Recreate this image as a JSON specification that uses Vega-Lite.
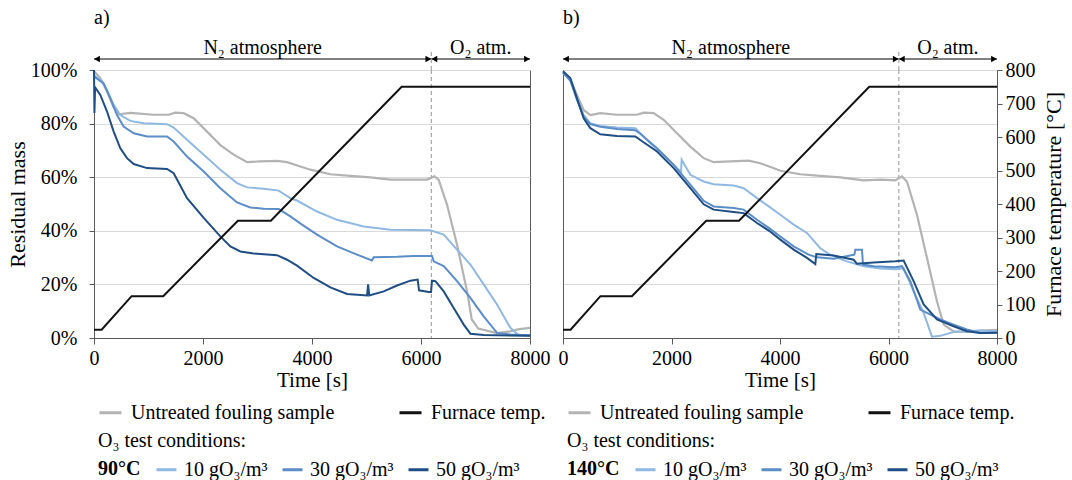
{
  "$schema": "https://vega.github.io/schema/vega-lite/v6.json",
  "background": "white",
  "padding": {"top": 8, "left": 5, "right": 5, "bottom": 5},
  "config": {
    "font": "Liberation Serif",
    "view": {"stroke": "#595959", "strokeWidth": 1},
    "axis": {"labelFont": "Liberation Serif", "titleFont": "Liberation Serif", "labelFontSize": 20, "titleFontSize": 21, "labelColor": "#000", "titleColor": "#000", "titleFontWeight": "normal", "domainColor": "#595959", "tickColor": "#595959", "gridColor": "#d9d9d9", "gridWidth": 1},
    "legend": {"labelFont": "Liberation Serif", "titleFont": "Liberation Serif", "labelFontSize": 20, "titleFontSize": 20, "labelColor": "#000", "titleColor": "#000", "labelLimit": 400, "titleLimit": 400},
    "title": {"font": "Liberation Serif", "fontSize": 20, "fontWeight": "normal", "color": "#000"},
    "text": {"font": "Liberation Serif"}
  },
  "datasets": {
    "temp": [{"t":0,"T":25},{"t":140,"T":25},{"t":690,"T":125},{"t":1270,"T":125},{"t":2640,"T":350},{"t":3245,"T":350},{"t":5645,"T":750},{"t":8000,"T":750}],
    "phases": [{"start":0,"end":6190,"label":"N₂ atmosphere"},{"start":6190,"end":8000,"label":"O₂ atm."}],
    "switch": [{"t":6190}],
    "untreatedA": [{"t":0,"m":99.5},{"t":116,"m":97},{"t":239,"m":92},{"t":361,"m":86},{"t":453,"m":83.5},{"t":667,"m":84},{"t":1095,"m":83.3},{"t":1370,"m":83.3},{"t":1493,"m":84.1},{"t":1646,"m":83.9},{"t":1829,"m":82},{"t":2074,"m":77},{"t":2318,"m":72},{"t":2563,"m":68.4},{"t":2808,"m":65.6},{"t":3052,"m":65.9},{"t":3358,"m":66.1},{"t":3542,"m":65.6},{"t":3786,"m":64},{"t":3970,"m":62.8},{"t":4337,"m":61.1},{"t":4704,"m":60.5},{"t":5071,"m":59.9},{"t":5438,"m":59.1},{"t":5744,"m":59.1},{"t":6111,"m":59.1},{"t":6245,"m":60.3},{"t":6325,"m":59},{"t":6478,"m":49.7},{"t":6661,"m":34.8},{"t":6845,"m":17.4},{"t":6930,"m":7},{"t":7050,"m":3.5},{"t":7395,"m":1.8},{"t":7640,"m":2.5},{"t":7800,"m":3.3},{"t":8000,"m":3.8}],
    "ozoneA": [
      {"s":"10","t":0,"m":98},{"s":"10","t":147,"m":95.7},{"s":"10","t":239,"m":92.5},{"s":"10","t":361,"m":87},{"s":"10","t":483,"m":83.2},{"s":"10","t":667,"m":81},{"s":"10","t":911,"m":80.1},{"s":"10","t":1340,"m":79.8},{"s":"10","t":1462,"m":78.5},{"s":"10","t":1707,"m":74},{"s":"10","t":2013,"m":68.4},{"s":"10","t":2318,"m":62.8},{"s":"10","t":2624,"m":57.8},{"s":"10","t":2808,"m":56.2},{"s":"10","t":3114,"m":55.7},{"s":"10","t":3389,"m":55},{"s":"10","t":3603,"m":52.2},{"s":"10","t":3725,"m":51.3},{"s":"10","t":4092,"m":47.2},{"s":"10","t":4459,"m":44.1},{"s":"10","t":4948,"m":41.6},{"s":"10","t":5438,"m":40.4},{"s":"10","t":5866,"m":40.3},{"s":"10","t":6172,"m":40.2},{"s":"10","t":6417,"m":38.6},{"s":"10","t":6661,"m":33},{"s":"10","t":6906,"m":27.4},{"s":"10","t":7150,"m":20},{"s":"10","t":7395,"m":12.5},{"s":"10","t":7640,"m":3.8},{"s":"10","t":7790,"m":1},{"s":"10","t":8000,"m":0.8},
      {"s":"30","t":0,"m":97.5},{"s":"30","t":55,"m":96.8},{"s":"30","t":177,"m":95},{"s":"30","t":300,"m":89.4},{"s":"30","t":422,"m":83.2},{"s":"30","t":544,"m":78.9},{"s":"30","t":728,"m":76.4},{"s":"30","t":973,"m":75.2},{"s":"30","t":1340,"m":75.2},{"s":"30","t":1462,"m":73.3},{"s":"30","t":1707,"m":67.7},{"s":"30","t":2013,"m":62.1},{"s":"30","t":2318,"m":55.9},{"s":"30","t":2624,"m":50.6},{"s":"30","t":2869,"m":48.7},{"s":"30","t":3114,"m":48.2},{"s":"30","t":3389,"m":48.1},{"s":"30","t":3603,"m":45.4},{"s":"30","t":3817,"m":42.3},{"s":"30","t":4092,"m":38.6},{"s":"30","t":4459,"m":34.2},{"s":"30","t":4826,"m":31.1},{"s":"30","t":5101,"m":28.9},{"s":"30","t":5132,"m":30.1},{"s":"30","t":5560,"m":30.3},{"s":"30","t":5866,"m":30.6},{"s":"30","t":6202,"m":30.6},{"s":"30","t":6233,"m":28.6},{"s":"30","t":6417,"m":26.8},{"s":"30","t":6661,"m":21.2},{"s":"30","t":6906,"m":15},{"s":"30","t":7150,"m":8.1},{"s":"30","t":7395,"m":1.9},{"s":"30","t":7640,"m":1.3},{"s":"30","t":8000,"m":1},
      {"s":"50","t":0,"m":100},{"s":"50","t":8,"m":84},{"s":"50","t":20,"m":93.5},{"s":"50","t":116,"m":90.7},{"s":"50","t":239,"m":84.5},{"s":"50","t":361,"m":77},{"s":"50","t":483,"m":70.8},{"s":"50","t":606,"m":67.1},{"s":"50","t":728,"m":64.9},{"s":"50","t":973,"m":63.4},{"s":"50","t":1340,"m":63.1},{"s":"50","t":1462,"m":61.5},{"s":"50","t":1707,"m":52.2},{"s":"50","t":2013,"m":44.8},{"s":"50","t":2318,"m":37.9},{"s":"50","t":2502,"m":34.2},{"s":"50","t":2685,"m":32.3},{"s":"50","t":2930,"m":31.5},{"s":"50","t":3358,"m":30.9},{"s":"50","t":3542,"m":29.2},{"s":"50","t":3725,"m":27},{"s":"50","t":4031,"m":22.4},{"s":"50","t":4337,"m":18.9},{"s":"50","t":4643,"m":16.4},{"s":"50","t":5010,"m":15.9},{"s":"50","t":5030,"m":20},{"s":"50","t":5050,"m":15.9},{"s":"50","t":5316,"m":17.4},{"s":"50","t":5560,"m":19.6},{"s":"50","t":5805,"m":21.4},{"s":"50","t":5939,"m":21.8},{"s":"50","t":5964,"m":17.8},{"s":"50","t":6141,"m":17.2},{"s":"50","t":6184,"m":17.2},{"s":"50","t":6202,"m":21.4},{"s":"50","t":6264,"m":21.2},{"s":"50","t":6417,"m":17.4},{"s":"50","t":6600,"m":11.2},{"s":"50","t":6784,"m":5},{"s":"50","t":6906,"m":1.6},{"s":"50","t":7150,"m":1.1},{"s":"50","t":8000,"m":0.8}
    ],
    "untreatedB": [{"t":0,"m":99.4},{"t":135,"m":96.3},{"t":258,"m":90.7},{"t":381,"m":85.1},{"t":504,"m":83.2},{"t":688,"m":83.9},{"t":995,"m":83.3},{"t":1364,"m":83.3},{"t":1487,"m":84.1},{"t":1671,"m":83.9},{"t":1855,"m":81.4},{"t":2101,"m":76.4},{"t":2347,"m":71.4},{"t":2593,"m":67.1},{"t":2777,"m":65.6},{"t":3084,"m":65.9},{"t":3422,"m":66.2},{"t":3637,"m":65.2},{"t":3852,"m":63.6},{"t":4006,"m":62.4},{"t":4374,"m":61.1},{"t":4743,"m":60.5},{"t":5112,"m":59.9},{"t":5542,"m":58.8},{"t":5849,"m":59.1},{"t":6125,"m":58.8},{"t":6248,"m":60.3},{"t":6340,"m":58.4},{"t":6525,"m":46},{"t":6709,"m":29.9},{"t":6893,"m":13.7},{"t":7016,"m":5},{"t":7200,"m":2.5},{"t":7446,"m":2.3},{"t":7692,"m":2.8},{"t":8000,"m":3}],
    "ozoneB": [
      {"s":"10","t":0,"m":99},{"s":"10","t":135,"m":96.3},{"s":"10","t":258,"m":89.4},{"s":"10","t":381,"m":83.2},{"s":"10","t":504,"m":80.1},{"s":"10","t":688,"m":79.1},{"s":"10","t":995,"m":78.5},{"s":"10","t":1333,"m":78.3},{"s":"10","t":1395,"m":77},{"s":"10","t":1610,"m":72.7},{"s":"10","t":1855,"m":68.4},{"s":"10","t":2101,"m":63.4},{"s":"10","t":2175,"m":61.9},{"s":"10","t":2187,"m":66.5},{"s":"10","t":2347,"m":60.9},{"s":"10","t":2593,"m":58.4},{"s":"10","t":2777,"m":57.4},{"s":"10","t":3146,"m":56.9},{"s":"10","t":3330,"m":55.9},{"s":"10","t":3576,"m":52.2},{"s":"10","t":3800,"m":49},{"s":"10","t":4006,"m":46},{"s":"10","t":4252,"m":42.3},{"s":"10","t":4497,"m":39.2},{"s":"10","t":4620,"m":36.3},{"s":"10","t":4743,"m":33.5},{"s":"10","t":4890,"m":31.5},{"s":"10","t":5050,"m":30},{"s":"10","t":5235,"m":28.6},{"s":"10","t":5542,"m":26.8},{"s":"10","t":5849,"m":25.9},{"s":"10","t":6125,"m":25.7},{"s":"10","t":6279,"m":26},{"s":"10","t":6463,"m":17.4},{"s":"10","t":6648,"m":9.4},{"s":"10","t":6801,"m":0.5},{"s":"10","t":6955,"m":0.8},{"s":"10","t":7200,"m":2.2},{"s":"10","t":7446,"m":2.5},{"s":"10","t":7692,"m":2.8},{"s":"10","t":8000,"m":2.5},
      {"s":"30","t":0,"m":99},{"s":"30","t":135,"m":96},{"s":"30","t":258,"m":88.8},{"s":"30","t":381,"m":82.6},{"s":"30","t":504,"m":79.8},{"s":"30","t":688,"m":78.8},{"s":"30","t":995,"m":78},{"s":"30","t":1333,"m":77.5},{"s":"30","t":1425,"m":76.2},{"s":"30","t":1733,"m":70.8},{"s":"30","t":2040,"m":64.6},{"s":"30","t":2347,"m":57.2},{"s":"30","t":2593,"m":51.2},{"s":"30","t":2777,"m":49.1},{"s":"30","t":3146,"m":48.5},{"s":"30","t":3330,"m":47.9},{"s":"30","t":3576,"m":44.1},{"s":"30","t":3800,"m":41},{"s":"30","t":4006,"m":37.9},{"s":"30","t":4252,"m":34.2},{"s":"30","t":4528,"m":31.1},{"s":"30","t":4682,"m":30.1},{"s":"30","t":4989,"m":29.6},{"s":"30","t":5370,"m":31.1},{"s":"30","t":5388,"m":32.9},{"s":"30","t":5511,"m":32.9},{"s":"30","t":5530,"m":27.4},{"s":"30","t":5726,"m":26.8},{"s":"30","t":6125,"m":26.4},{"s":"30","t":6248,"m":26.8},{"s":"30","t":6402,"m":21.2},{"s":"30","t":6586,"m":10.6},{"s":"30","t":6709,"m":9.4},{"s":"30","t":6955,"m":6.9},{"s":"30","t":7200,"m":5},{"s":"30","t":7446,"m":3.2},{"s":"30","t":7692,"m":1.9},{"s":"30","t":8000,"m":2},
      {"s":"50","t":0,"m":99.5},{"s":"50","t":135,"m":97},{"s":"50","t":258,"m":89.4},{"s":"50","t":381,"m":82},{"s":"50","t":504,"m":78.3},{"s":"50","t":688,"m":76},{"s":"50","t":995,"m":75.4},{"s":"50","t":1333,"m":75.2},{"s":"50","t":1425,"m":73.9},{"s":"50","t":1733,"m":69.6},{"s":"50","t":2040,"m":63.4},{"s":"50","t":2347,"m":55.9},{"s":"50","t":2593,"m":49.9},{"s":"50","t":2777,"m":47.9},{"s":"50","t":3146,"m":47},{"s":"50","t":3330,"m":46.6},{"s":"50","t":3576,"m":42.9},{"s":"50","t":3800,"m":40},{"s":"50","t":4006,"m":36.7},{"s":"50","t":4252,"m":33},{"s":"50","t":4497,"m":29.9},{"s":"50","t":4651,"m":27.6},{"s":"50","t":4669,"m":31.3},{"s":"50","t":4989,"m":30.8},{"s":"50","t":5358,"m":29.2},{"s":"50","t":5419,"m":27.7},{"s":"50","t":5726,"m":28.2},{"s":"50","t":6125,"m":28.6},{"s":"50","t":6279,"m":28.9},{"s":"50","t":6463,"m":21.2},{"s":"50","t":6648,"m":12.5},{"s":"50","t":6893,"m":6.9},{"s":"50","t":7200,"m":4.4},{"s":"50","t":7446,"m":2.5},{"s":"50","t":7692,"m":1.9},{"s":"50","t":8000,"m":2}
    ]
  },
  "columns": 2,
  "spacing": {"row": 0, "column": 33},
  "bounds": "flush",
  "resolve": {"scale": {"color": "independent", "stroke": "independent"}, "legend": {"color": "independent", "stroke": "independent"}},
  "concat": [
    {
      "width": 436, "height": 33,
      "title": {"text": "a)", "anchor": "start", "frame": "group", "offset": 9},
      "view": {"stroke": null},
      "layer": [
        {"data": {"name": "phases"}, "mark": {"type": "rule", "color": "#000", "strokeWidth": 1}, "encoding": {"x": {"field": "start", "type": "quantitative", "scale": {"domain": [0, 8000], "nice": false}, "axis": null}, "x2": {"field": "end"}, "y": {"datum": 1, "type": "quantitative", "scale": {"domain": [0, 3]}, "axis": null}}},
        {"data": {"name": "phases"}, "mark": {"type": "point", "shape": "triangle-left", "filled": true, "size": 45, "color": "#000", "opacity": 1, "xOffset": 3}, "encoding": {"x": {"field": "start", "type": "quantitative"}, "y": {"datum": 1, "type": "quantitative"}}},
        {"data": {"name": "phases"}, "mark": {"type": "point", "shape": "triangle-right", "filled": true, "size": 45, "color": "#000", "opacity": 1, "xOffset": -3}, "encoding": {"x": {"field": "end", "type": "quantitative"}, "y": {"datum": 1, "type": "quantitative"}}},
        {"data": {"name": "phases"}, "transform": [{"calculate": "(datum.start + datum.end) / 2", "as": "mid"}], "mark": {"type": "text", "fontSize": 20, "baseline": "alphabetic", "color": "#000"}, "encoding": {"x": {"field": "mid", "type": "quantitative"}, "y": {"datum": 1.45, "type": "quantitative"}, "text": {"field": "label"}}},
        {"data": {"name": "switch"}, "mark": {"type": "rule", "color": "#a6a6a6", "strokeDash": [4, 3], "strokeWidth": 1.2}, "encoding": {"x": {"field": "t", "type": "quantitative"}, "y": {"datum": 0, "type": "quantitative"}, "y2": {"datum": 1.8}}}
      ]
    },
    {
      "width": 434, "height": 33,
      "title": {"text": "b)", "anchor": "start", "frame": "group", "offset": 9},
      "view": {"stroke": null},
      "layer": [
        {"data": {"name": "phases"}, "mark": {"type": "rule", "color": "#000", "strokeWidth": 1}, "encoding": {"x": {"field": "start", "type": "quantitative", "scale": {"domain": [0, 8000], "nice": false}, "axis": null}, "x2": {"field": "end"}, "y": {"datum": 1, "type": "quantitative", "scale": {"domain": [0, 3]}, "axis": null}}},
        {"data": {"name": "phases"}, "mark": {"type": "point", "shape": "triangle-left", "filled": true, "size": 45, "color": "#000", "opacity": 1, "xOffset": 3}, "encoding": {"x": {"field": "start", "type": "quantitative"}, "y": {"datum": 1, "type": "quantitative"}}},
        {"data": {"name": "phases"}, "mark": {"type": "point", "shape": "triangle-right", "filled": true, "size": 45, "color": "#000", "opacity": 1, "xOffset": -3}, "encoding": {"x": {"field": "end", "type": "quantitative"}, "y": {"datum": 1, "type": "quantitative"}}},
        {"data": {"name": "phases"}, "transform": [{"calculate": "(datum.start + datum.end) / 2", "as": "mid"}], "mark": {"type": "text", "fontSize": 20, "baseline": "alphabetic", "color": "#000"}, "encoding": {"x": {"field": "mid", "type": "quantitative"}, "y": {"datum": 1.45, "type": "quantitative"}, "text": {"field": "label"}}},
        {"data": {"name": "switch"}, "mark": {"type": "rule", "color": "#a6a6a6", "strokeDash": [4, 3], "strokeWidth": 1.2}, "encoding": {"x": {"field": "t", "type": "quantitative"}, "y": {"datum": 0, "type": "quantitative"}, "y2": {"datum": 1.8}}}
      ]
    },
    {
      "width": 436, "height": 268,
      "resolve": {"scale": {"y": "independent"}},
      "layer": [
        {"layer": [
          {"data": {"name": "switch"}, "mark": {"type": "rule", "color": "#a6a6a6", "strokeDash": [4, 3], "strokeWidth": 1.2}, "encoding": {"x": {"field": "t", "type": "quantitative", "title": "Time [s]", "scale": {"domain": [0, 8000], "nice": false}, "axis": {"values": [0, 2000, 4000, 6000, 8000], "format": "d", "grid": false, "labelFlush": false, "tickSize": 6, "labelPadding": 4, "titlePadding": 1}}}},
          {"data": {"name": "untreatedA"}, "mark": {"type": "line", "strokeWidth": 2.2}, "encoding": {
            "x": {"field": "t", "type": "quantitative", "title": "Time [s]", "scale": {"domain": [0, 8000], "nice": false}, "axis": {"values": [0, 2000, 4000, 6000, 8000], "format": "d", "grid": false, "labelFlush": false, "tickSize": 6, "labelPadding": 4, "titlePadding": 1}},
            "y": {"field": "m", "type": "quantitative", "title": "Residual mass", "scale": {"domain": [0, 100], "nice": false}, "axis": {"values": [0, 20, 40, 60, 80, 100], "labelExpr": "datum.value + '%'", "grid": true, "tickSize": 5, "labelPadding": 12, "titlePadding": 1, "titleFontSize": 22}},
            "color": {"datum": "Untreated fouling sample", "type": "nominal", "scale": {"domain": ["Untreated fouling sample", "Furnace temp."], "range": ["#b3b3b3", "#111111"]}, "legend": {"orient": "none", "legendX": 4, "legendY": 330, "direction": "horizontal", "title": "O₃ test conditions:", "titleOrient": "bottom", "titleAnchor": "start", "titleFontWeight": "normal", "titlePadding": 8, "symbolType": "stroke", "symbolSize": 484, "symbolStrokeWidth": 3, "labelOffset": 8, "columnPadding": 58}}
          }},
          {"data": {"name": "ozoneA"}, "mark": {"type": "line", "strokeWidth": 2}, "encoding": {
            "x": {"field": "t", "type": "quantitative", "title": "Time [s]", "scale": {"domain": [0, 8000], "nice": false}, "axis": {"values": [0, 2000, 4000, 6000, 8000], "format": "d", "grid": false, "labelFlush": false, "tickSize": 6, "labelPadding": 4, "titlePadding": 1}},
            "y": {"field": "m", "type": "quantitative", "title": "Residual mass", "scale": {"domain": [0, 100], "nice": false}, "axis": {"values": [0, 20, 40, 60, 80, 100], "labelExpr": "datum.value + '%'", "grid": true, "tickSize": 5, "labelPadding": 12, "titlePadding": 1, "titleFontSize": 22}},
            "stroke": {"field": "s", "type": "nominal", "scale": {"domain": ["10", "30", "50"], "range": ["#8fb9e3", "#5b8dc8", "#1f4e84"]}, "legend": {"orient": "none", "legendX": 4, "legendY": 388, "direction": "horizontal", "title": "90°C", "titleOrient": "left", "titleFontWeight": "bold", "titlePadding": 14, "symbolType": "stroke", "symbolSize": 400, "symbolStrokeWidth": 3, "labelOffset": 6, "columnPadding": 8, "labelExpr": "datum.label + ' gO₃/m³'"}}
          }}
        ]},
        {"data": {"name": "temp"}, "mark": {"type": "line", "strokeWidth": 2}, "encoding": {
          "x": {"field": "t", "type": "quantitative", "title": "Time [s]", "scale": {"domain": [0, 8000], "nice": false}, "axis": {"values": [0, 2000, 4000, 6000, 8000], "format": "d", "grid": false, "labelFlush": false, "tickSize": 6, "labelPadding": 4, "titlePadding": 1}},
          "y": {"field": "T", "type": "quantitative", "scale": {"domain": [0, 800], "nice": false}, "axis": null},
          "color": {"datum": "Furnace temp.", "type": "nominal", "scale": {"domain": ["Untreated fouling sample", "Furnace temp."], "range": ["#b3b3b3", "#111111"]}, "legend": {"orient": "none", "legendX": 4, "legendY": 330, "direction": "horizontal", "title": "O₃ test conditions:", "titleOrient": "bottom", "titleAnchor": "start", "titleFontWeight": "normal", "titlePadding": 8, "symbolType": "stroke", "symbolSize": 484, "symbolStrokeWidth": 3, "labelOffset": 8, "columnPadding": 58}}
        }}
      ]
    },
    {
      "width": 434, "height": 268,
      "resolve": {"scale": {"y": "independent"}},
      "layer": [
        {"layer": [
          {"data": {"name": "switch"}, "mark": {"type": "rule", "color": "#a6a6a6", "strokeDash": [4, 3], "strokeWidth": 1.2}, "encoding": {"x": {"field": "t", "type": "quantitative", "title": "Time [s]", "scale": {"domain": [0, 8000], "nice": false}, "axis": {"values": [0, 2000, 4000, 6000, 8000], "format": "d", "grid": false, "labelFlush": false, "tickSize": 6, "labelPadding": 4, "titlePadding": 1}}}},
          {"data": {"name": "untreatedB"}, "mark": {"type": "line", "strokeWidth": 2.2}, "encoding": {
            "x": {"field": "t", "type": "quantitative", "title": "Time [s]", "scale": {"domain": [0, 8000], "nice": false}, "axis": {"values": [0, 2000, 4000, 6000, 8000], "format": "d", "grid": false, "labelFlush": false, "tickSize": 6, "labelPadding": 4, "titlePadding": 1}},
            "y": {"field": "m", "type": "quantitative", "title": null, "scale": {"domain": [0, 100], "nice": false}, "axis": {"values": [0, 20, 40, 60, 80, 100], "labels": false, "ticks": false, "grid": true, "title": null}},
            "color": {"datum": "Untreated fouling sample", "type": "nominal", "scale": {"domain": ["Untreated fouling sample", "Furnace temp."], "range": ["#b3b3b3", "#111111"]}, "legend": {"orient": "none", "legendX": 4, "legendY": 330, "direction": "horizontal", "title": "O₃ test conditions:", "titleOrient": "bottom", "titleAnchor": "start", "titleFontWeight": "normal", "titlePadding": 8, "symbolType": "stroke", "symbolSize": 484, "symbolStrokeWidth": 3, "labelOffset": 8, "columnPadding": 58}}
          }},
          {"data": {"name": "ozoneB"}, "mark": {"type": "line", "strokeWidth": 2}, "encoding": {
            "x": {"field": "t", "type": "quantitative", "title": "Time [s]", "scale": {"domain": [0, 8000], "nice": false}, "axis": {"values": [0, 2000, 4000, 6000, 8000], "format": "d", "grid": false, "labelFlush": false, "tickSize": 6, "labelPadding": 4, "titlePadding": 1}},
            "y": {"field": "m", "type": "quantitative", "title": null, "scale": {"domain": [0, 100], "nice": false}, "axis": {"values": [0, 20, 40, 60, 80, 100], "labels": false, "ticks": false, "grid": true, "title": null}},
            "stroke": {"field": "s", "type": "nominal", "scale": {"domain": ["10", "30", "50"], "range": ["#8fb9e3", "#5b8dc8", "#1f4e84"]}, "legend": {"orient": "none", "legendX": 4, "legendY": 388, "direction": "horizontal", "title": "140°C", "titleOrient": "left", "titleFontWeight": "bold", "titlePadding": 14, "symbolType": "stroke", "symbolSize": 400, "symbolStrokeWidth": 3, "labelOffset": 6, "columnPadding": 8, "labelExpr": "datum.label + ' gO₃/m³'"}}
          }}
        ]},
        {"data": {"name": "temp"}, "mark": {"type": "line", "strokeWidth": 2}, "encoding": {
          "x": {"field": "t", "type": "quantitative", "title": "Time [s]", "scale": {"domain": [0, 8000], "nice": false}, "axis": {"values": [0, 2000, 4000, 6000, 8000], "format": "d", "grid": false, "labelFlush": false, "tickSize": 6, "labelPadding": 4, "titlePadding": 1}},
          "y": {"field": "T", "type": "quantitative", "title": "Furnace temperature [°C]", "scale": {"domain": [0, 800], "nice": false}, "axis": {"orient": "right", "values": [0, 100, 200, 300, 400, 500, 600, 700, 800], "grid": false, "tickSize": 5, "labelPadding": 3, "titlePadding": 8, "titleAngle": 270, "titleBaseline": "top", "titleFontSize": 22}},
          "color": {"datum": "Furnace temp.", "type": "nominal", "scale": {"domain": ["Untreated fouling sample", "Furnace temp."], "range": ["#b3b3b3", "#111111"]}, "legend": {"orient": "none", "legendX": 4, "legendY": 330, "direction": "horizontal", "title": "O₃ test conditions:", "titleOrient": "bottom", "titleAnchor": "start", "titleFontWeight": "normal", "titlePadding": 8, "symbolType": "stroke", "symbolSize": 484, "symbolStrokeWidth": 3, "labelOffset": 8, "columnPadding": 58}}
        }}
      ]
    }
  ]
}
